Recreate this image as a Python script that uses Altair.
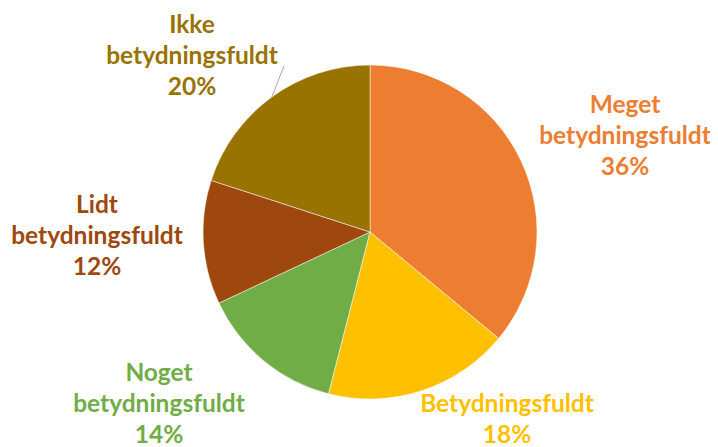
import math
import altair as alt
import pandas as pd

# ---- data ----
categories = [
    "Meget betydningsfuldt",
    "Betydningsfuldt",
    "Noget betydningsfuldt",
    "Lidt betydningsfuldt",
    "Ikke betydningsfuldt",
]
label_names = [
    "Meget\nbetydningsfuldt",
    "Betydningsfuldt",
    "Noget\nbetydningsfuldt",
    "Lidt\nbetydningsfuldt",
    "Ikke\nbetydningsfuldt",
]
values = [36, 18, 14, 12, 20]
colors = ["#ED7D31", "#FFC000", "#70AD47", "#9E480E", "#997300"]

# ---- layout ----
W, H = 702, 439
CX, CY = 362, 224          # pie centre inside the plot area
R = 167                    # pie radius
LH = 31                    # label line height
# label block centres relative to the pie centre (Excel "best fit" placement)
label_offsets = [(255, -95), (137, 188), (-211, 173), (-273, 5), (-178, -175)]
leader_end = (-86, -166)   # end of leader line for the last slice

df = pd.DataFrame({
    "cat": categories,
    "val": values,
    "order": list(range(len(categories))),
    "label": [f"{n}\n{v}%" for n, v in zip(label_names, values)],
})
nlines = [lbl.count("\n") + 1 for lbl in df["label"]]
df["lx"] = [CX + o[0] for o in label_offsets]
# y of the first line's centre so that the whole block is centred on the offset
df["ly"] = [CY + o[1] - (n - 1) * LH / 2 for o, n in zip(label_offsets, nlines)]

# leader line from the middle of the last slice's arc
total = sum(values)
cum = sum(values[:-1])
mid = (cum + values[-1] / 2) / total * 2 * math.pi
lead = pd.DataFrame({
    "x": [CX + R * math.sin(mid)],
    "y": [CY - R * math.cos(mid)],
    "x2": [CX + leader_end[0]],
    "y2": [CY + leader_end[1]],
})

color = alt.Color("cat:N", scale=alt.Scale(domain=categories, range=colors), legend=None)

pie = alt.Chart(df).mark_arc(radius=R, stroke="white", strokeWidth=0.5).encode(
    theta=alt.Theta("val:Q", stack=True),
    order=alt.Order("order:Q"),
    color=color,
    x=alt.value(CX),
    y=alt.value(CY),
)

labels = alt.Chart(df).mark_text(
    font="Lato", fontWeight="bold", fontSize=24.5, lineBreak="\n", lineHeight=LH,
    align="center", baseline="middle",
).encode(
    x=alt.X("lx:Q", scale=None),
    y=alt.Y("ly:Q", scale=None),
    text="label:N",
    color=color,
)

leader = alt.Chart(lead).mark_rule(color="#A6A6A6", strokeWidth=1).encode(
    x=alt.X("x:Q", scale=None),
    y=alt.Y("y:Q", scale=None),
    x2="x2:Q",
    y2="y2:Q",
)

chart = alt.layer(leader, pie, labels).properties(
    width=W, height=H, padding=0, autosize="none", background="white"
).configure_view(stroke="transparent", strokeWidth=0)

chart.save("out.html", embed_options={"renderer": "svg", "actions": False})
